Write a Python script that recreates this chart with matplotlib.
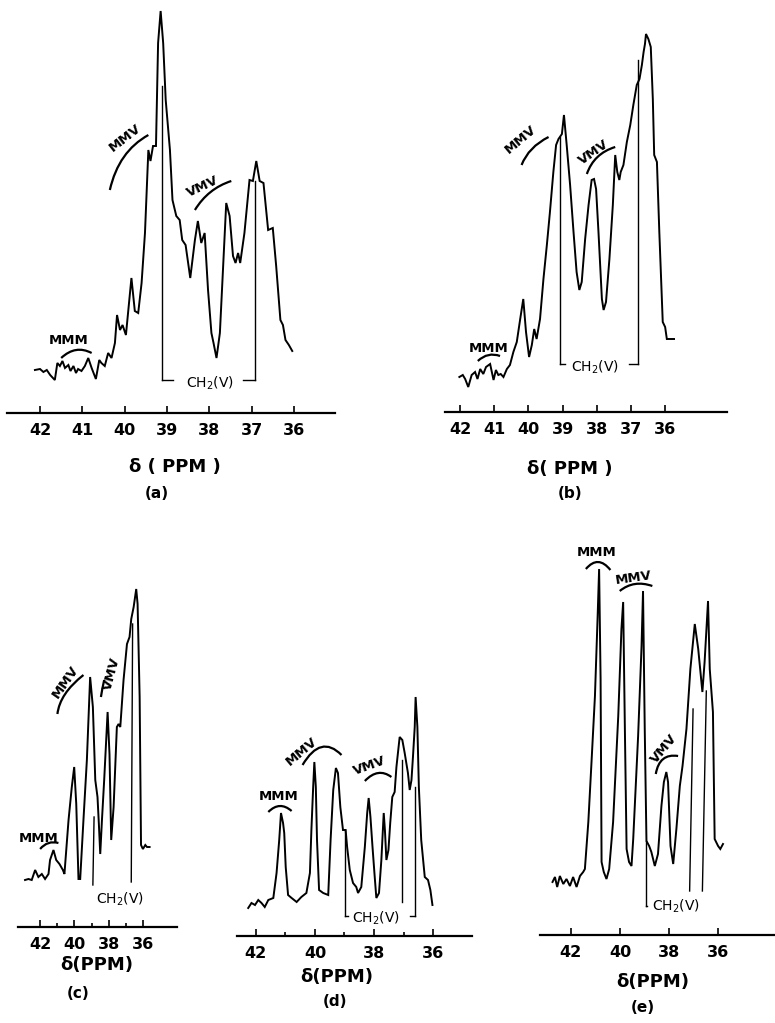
import matplotlib
matplotlib.use("Agg")
import matplotlib.pyplot as plt
import numpy as np
from matplotlib.path import Path
from matplotlib.patches import PathPatch

plt.rcParams['font.family'] = ['DejaVu Sans']

W, H = 775, 1023

# ---- spectra: chemical shift (ppm) and trace height ----
a_ppm = [42.12, 42.00, 41.92, 41.84, 41.76, 41.65, 41.59, 41.53, 41.47, 41.41, 41.33, 41.28,
         41.21, 41.15, 41.10, 41.02, 40.94, 40.86, 40.78, 40.68, 40.60, 40.55, 40.47, 40.39,
         40.31, 40.23, 40.18, 40.11, 40.05, 39.97, 39.84, 39.76, 39.68, 39.60, 39.52, 39.44,
         39.39, 39.33, 39.26, 39.21, 39.15, 39.09, 39.03, 38.93, 38.87, 38.78, 38.70, 38.64,
         38.56, 38.45, 38.34, 38.27, 38.19, 38.11, 38.03, 37.95, 37.90, 37.83, 37.75, 37.60,
         37.52, 37.44, 37.38, 37.32, 37.27, 37.17, 37.05, 36.97, 36.89, 36.81, 36.72, 36.61,
         36.50, 36.42, 36.32, 36.26, 36.20, 36.12, 36.04]
a_int = [43, 44, 41, 43, 38, 33, 50, 47, 52, 45, 48, 42,
         47, 40, 44, 42, 47, 55, 45, 34, 53, 50, 47, 60,
         55, 70, 98, 83, 88, 78, 135, 102, 100, 130, 180, 263,
         252, 267, 267, 370, 402, 370, 313, 263, 213, 197, 193, 173,
         168, 135, 173, 192, 170, 180, 123, 80, 70, 55, 80, 210,
         197, 157, 150, 160, 150, 180, 233, 232, 252, 232, 230, 183,
         185, 147, 93, 88, 73, 68, 62]

b_ppm = [42.02, 41.92, 41.85, 41.76, 41.66, 41.56, 41.49, 41.41, 41.32, 41.24, 41.12, 41.02,
         40.95, 40.88, 40.81, 40.73, 40.63, 40.54, 40.44, 40.34, 40.24, 40.15, 40.07, 39.98,
         39.90, 39.83, 39.76, 39.66, 39.56, 39.46, 39.37, 39.27, 39.19, 39.12, 39.02, 38.96,
         38.88, 38.78, 38.68, 38.59, 38.51, 38.44, 38.34, 38.24, 38.15, 38.08, 38.02, 37.95,
         37.85, 37.80, 37.73, 37.63, 37.53, 37.46, 37.40, 37.34, 37.30, 37.22, 37.12, 37.02,
         36.93, 36.83, 36.75, 36.68, 36.63, 36.59, 36.56, 36.49, 36.42, 36.36, 36.32, 36.24,
         36.17, 36.07, 36.00, 35.95, 35.83, 35.74]
b_int = [35, 37, 33, 25, 37, 40, 33, 43, 38, 45, 48, 32,
         42, 37, 38, 35, 43, 47, 60, 70, 93, 113, 80, 55,
         67, 83, 73, 93, 133, 167, 200, 240, 267, 273, 278, 297,
         267, 227, 180, 140, 122, 130, 173, 207, 232, 233, 223, 180,
         113, 102, 110, 153, 207, 257, 240, 232, 240, 247, 270, 287,
         307, 327, 333, 347, 360, 368, 378, 373, 365, 313, 257, 250,
         180, 90, 85, 73, 73, 73]

c_ppm = [42.88, 42.68, 42.49, 42.29, 42.10, 41.90, 41.71, 41.51, 41.42, 41.22, 41.06, 40.87,
         40.67, 40.58, 40.34, 40.15, 40.01, 39.89, 39.76, 39.66, 39.47, 39.27, 39.08, 38.92,
         38.78, 38.65, 38.57, 38.49, 38.39, 38.26, 38.06, 37.95, 37.85, 37.71, 37.52, 37.42,
         37.32, 37.13, 36.93, 36.78, 36.68, 36.54, 36.39, 36.31, 36.19, 36.11, 36.00, 35.86,
         35.76, 35.61]
c_int = [47, 48, 47, 57, 50, 53, 48, 53, 67, 77, 67, 63,
         57, 53, 107, 140, 160, 123, 48, 48, 107, 167, 250, 220,
         147, 130, 103, 73, 107, 147, 215, 173, 87, 120, 200, 203,
         200, 247, 283, 290, 308, 320, 338, 323, 230, 82, 78, 82,
         80, 80]

d_ppm = [42.26, 42.15, 42.03, 41.92, 41.81, 41.70, 41.58, 41.41, 41.30, 41.21, 41.15, 41.08,
         41.04, 40.99, 40.91, 40.79, 40.62, 40.46, 40.29, 40.17, 40.12, 40.06, 40.02, 39.97,
         39.93, 39.86, 39.72, 39.55, 39.47, 39.38, 39.29, 39.22, 39.14, 39.05, 38.96, 38.91,
         38.82, 38.71, 38.60, 38.54, 38.43, 38.31, 38.23, 38.18, 38.12, 38.05, 37.98, 37.92,
         37.83, 37.75, 37.67, 37.63, 37.58, 37.51, 37.45, 37.38, 37.30, 37.24, 37.13, 37.04,
         36.96, 36.85, 36.79, 36.73, 36.68, 36.62, 36.59, 36.53, 36.48, 36.40, 36.28, 36.17,
         36.09, 36.02]
d_int = [28, 33, 31, 36, 33, 29, 36, 38, 63, 96, 123, 113,
         103, 69, 41, 38, 34, 39, 43, 63, 106, 149, 174, 149,
         96, 46, 43, 41, 96, 146, 168, 163, 129, 106, 106, 89,
         66, 53, 49, 43, 49, 89, 123, 138, 119, 89, 61, 38,
         43, 76, 123, 106, 76, 86, 113, 139, 144, 169, 199, 196,
         183, 163, 146, 156, 179, 209, 239, 209, 149, 96, 59, 56,
         46, 31]

e_ppm = [42.75, 42.65, 42.56, 42.45, 42.31, 42.18, 42.04, 41.91, 41.77, 41.63, 41.50, 41.43,
         41.29, 41.16, 41.02, 40.91, 40.85, 40.79, 40.75, 40.66, 40.55, 40.44, 40.28, 40.07,
         39.94, 39.87, 39.80, 39.73, 39.63, 39.53, 39.46, 39.26, 39.12, 39.06, 38.99, 38.92,
         38.81, 38.72, 38.58, 38.45, 38.31, 38.21, 38.11, 38.04, 37.94, 37.83, 37.70, 37.56,
         37.45, 37.29, 37.13, 36.95, 36.81, 36.64, 36.55, 36.41, 36.34, 36.21, 36.14, 36.00,
         35.91, 35.80]
e_int = [53, 58, 48, 59, 51, 56, 49, 58, 48, 59, 63, 66,
         113, 173, 239, 319, 366, 256, 73, 63, 56, 66, 113, 219,
         306, 333, 206, 86, 73, 69, 96, 199, 289, 344, 206, 94,
         89, 83, 69, 81, 129, 153, 163, 153, 89, 71, 106, 149,
         169, 206, 266, 311, 286, 243, 273, 334, 266, 223, 96, 89,
         86, 91]

# ---- CH2(V) marker lines: (ppm_top, h_top, ppm_bottom, h_bottom) ----
a_ch2 = [(39.11, 327, 39.11, 33), (39.11, 33, 38.86, 33),
         (37.20, 33, 36.93, 33), (36.93, 33, 36.93, 232)]
b_ch2 = [(39.07, 275, 39.07, 48), (39.07, 48, 38.93, 48),
         (37.07, 48, 36.78, 48), (36.78, 48, 36.78, 352)]
c_ch2 = [(38.85, 110, 38.92, 42), (36.60, 303, 36.68, 45)]
d_ch2 = [(38.99, 106, 38.99, 20), (38.99, 20, 38.88, 20),
         (37.04, 176, 37.04, 34),
         (36.79, 20, 36.62, 20), (36.62, 20, 36.62, 149)]
e_ch2 = [(38.92, 94, 38.92, 29), (38.92, 29, 38.88, 29),
         (37.02, 226, 37.16, 44), (36.48, 244, 36.64, 44)]

ch2_text = {'a': (37.99, 30), 'b': (38.05, 45), 'c': (37.32, 28),
            'd': (37.92, 18), 'e': (37.70, 29)}

# ---- triad labels: name, text pos, rotation, arc (start, mid, end) ----
a_labels = [('MMM', (41.33, 72), 0, [(41.50, 55), (41.15, 63), (40.78, 60)]),
            ('MMV', (40.00, 275), 38, [(40.35, 223), (40.02, 256), (39.44, 278)]),
            ('VMV', (38.15, 226), 25, [(38.34, 203), (37.97, 221), (37.48, 232)])]
b_labels = [('MMM', (41.17, 63), 0, [(41.48, 51), (41.17, 57), (40.83, 56)]),
            ('MMV', (40.24, 272), 40, [(40.20, 247), (39.90, 263), (39.41, 275)]),
            ('VMV', (38.10, 260), 35, [(38.29, 238), (37.98, 255), (37.46, 265)])]
c_labels = [('MMM', (42.10, 88), 0, [(42.00, 78), (41.51, 84), (40.93, 84)]),
            ('MMV', (40.54, 245), 55, [(40.99, 213), (40.54, 233), (39.47, 252)]),
            ('VMV', (37.81, 253), 75, [(38.45, 230), (38.37, 238), (38.26, 247)])]
d_labels = [('MMM', (41.24, 139), 0, [(41.58, 124), (41.19, 130), (40.79, 125)]),
            ('MMV', (40.46, 184), 40, [(40.42, 171), (39.78, 189), (39.10, 181)]),
            ('VMV', (38.14, 170), 20, [(38.31, 155), (37.86, 163), (37.41, 159)])]
e_labels = [('MMM', (40.96, 383), 0, [(41.39, 366), (40.89, 373), (40.39, 365)]),
            ('MMV', (39.46, 357), 8, [(40.01, 344), (39.39, 351), (38.68, 349)]),
            ('VMV', (38.21, 186), 50, [(38.54, 161), (38.24, 176), (37.63, 179)])]

ticks_full = [42, 41, 40, 39, 38, 37, 36]
ticks_even = [42, 40, 38, 36]
ticks_odd = [41, 39, 37]

xlabels = {'a': 'δ ( PPM )', 'b': 'δ( PPM )', 'c': 'δ(PPM)', 'd': 'δ(PPM)', 'e': 'δ(PPM)'}

# ---- layout in pixels: x_left, x_right, axis_y, xlim ----
layout = {
    'a': dict(x0=7, x1=335, y=413, xlim=(42.78, 35.03), xl=(175, 467), pl=(157, 494)),
    'b': dict(x0=445, x1=727, y=412, xlim=(42.44, 34.19), xl=(570, 469), pl=(570, 494)),
    'c': dict(x0=18, x1=177, y=927, xlim=(43.29, 34.01), xl=(97, 965), pl=(78, 993)),
    'd': dict(x0=237, x1=472, y=936, xlim=(42.64, 34.68), xl=(337, 977), pl=(335, 1002)),
    'e': dict(x0=540, x1=775, y=935, xlim=(43.26, 33.68), xl=(653, 982), pl=(643, 1007)),
}

spectra = {'a': (a_ppm, a_int, a_ch2, a_labels, ticks_full, []),
           'b': (b_ppm, b_int, b_ch2, b_labels, ticks_full, []),
           'c': (c_ppm, c_int, c_ch2, c_labels, ticks_even, ticks_odd),
           'd': (d_ppm, d_int, d_ch2, d_labels, ticks_even, ticks_odd),
           'e': (e_ppm, e_int, e_ch2, e_labels, ticks_even, [])}


def draw_arc(ax, pts, lw=1.6):
    p0, p1, p2 = [np.array(p, dtype=float) for p in pts]
    ctrl = 2 * p1 - (p0 + p2) / 2
    path = Path([p0, ctrl, p2], [Path.MOVETO, Path.CURVE3, Path.CURVE3])
    ax.add_patch(PathPatch(path, fill=False, lw=lw, color='black', clip_on=False))


fig = plt.figure(figsize=(W / 100, H / 100), dpi=100)

for key, (ppm, inten, ch2, labels, major, minor) in spectra.items():
    L = layout[key]
    top = 420
    ax = fig.add_axes([L['x0'] / W, 1 - L['y'] / H, (L['x1'] - L['x0']) / W, top / H])
    ax.set_xlim(*L['xlim'])
    ax.set_ylim(0, top)
    ax.patch.set_visible(False)
    for s in ['top', 'left', 'right']:
        ax.spines[s].set_visible(False)
    ax.spines['bottom'].set_linewidth(1.6)
    ax.set_yticks([])
    ax.set_xticks(major)
    ax.set_xticklabels([str(t) for t in major])
    ax.set_xticks(minor, minor=True)
    ax.tick_params(axis='x', which='major', direction='in', length=5, width=1.2,
                   pad=7, labelsize=11.5)
    ax.tick_params(axis='x', which='minor', direction='in', length=3, width=1.2)
    for lab in ax.get_xticklabels():
        lab.set_fontweight('bold')

    ax.plot(ppm, inten, color='black', lw=1.4, solid_joinstyle='miter', clip_on=False)

    for (x0, y0, x1, y1) in ch2:
        ax.plot([x0, x1], [y0, y1], color='black', lw=1.0, clip_on=False)
    tx, ty = ch2_text[key]
    ax.text(tx, ty, 'CH$_2$(V)', ha='center', va='center', fontsize=10)

    for name, (lx, ly), rot, arc in labels:
        ax.text(lx, ly, name, ha='center', va='center', rotation=rot,
                rotation_mode='anchor', fontsize=9.5, fontweight='bold')
        draw_arc(ax, arc)

    xx, xy = L['xl']
    fig.text(xx / W, 1 - xy / H, xlabels[key], ha='center', va='center',
             fontsize=13, fontweight='bold')
    px, py = L['pl']
    fig.text(px / W, 1 - py / H, '(%s)' % key, ha='center', va='center',
             fontsize=11, fontweight='bold')

fig.savefig('out.png', dpi=100)
